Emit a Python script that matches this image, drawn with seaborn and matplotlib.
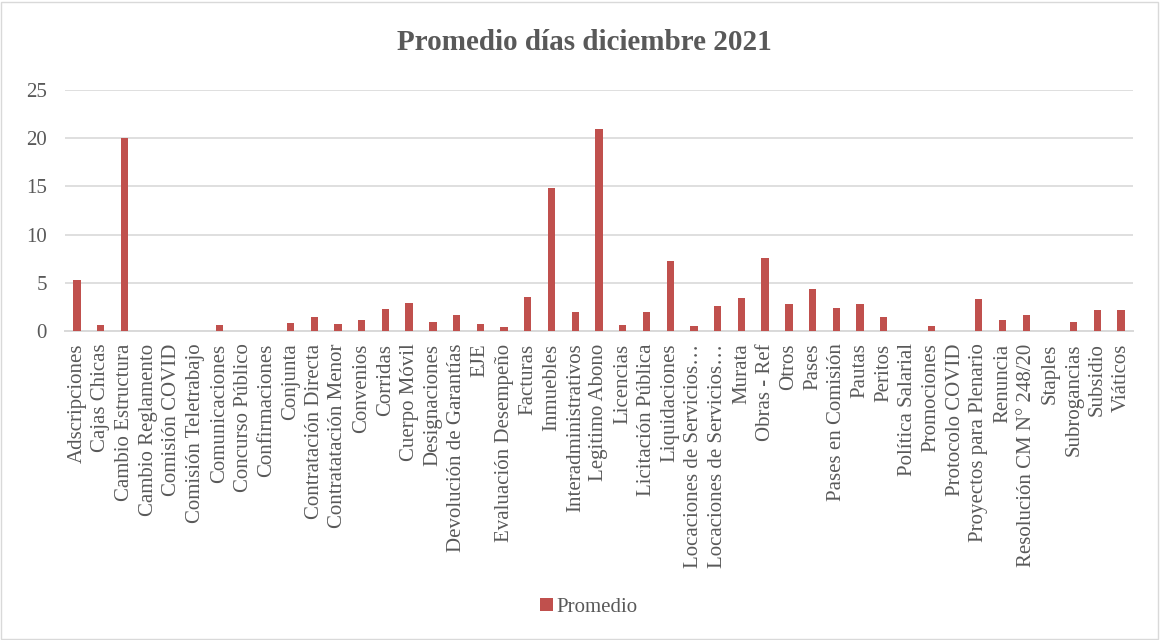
import matplotlib
matplotlib.use("Agg")
import matplotlib.pyplot as plt
import seaborn as sns
import pandas as pd
from matplotlib.patches import Rectangle

categories = [
    "Adscripciones", "Cajas Chicas", "Cambio Estructura", "Cambio Reglamento",
    "Comisión COVID", "Comisión Teletrabajo", "Comunicaciones", "Concurso Público",
    "Confirmaciones", "Conjunta", "Contratación Directa", "Contratatación Menor",
    "Convenios", "Corridas", "Cuerpo Móvil", "Designaciones",
    "Devolución de Garantías", "EJE", "Evaluación Desempeño", "Facturas",
    "Inmuebles", "Interadministrativos", "Legitimo Abono", "Licencias",
    "Licitación Pública", "Liquidaciones", "Locaciones de Servicios…",
    "Locaciones de Servicios…", "Murata", "Obras - Ref", "Otros", "Pases",
    "Pases en Comisión", "Pautas", "Peritos", "Política Salarial", "Promociones",
    "Protocolo COVID", "Proyectos para Plenario", "Renuncia",
    "Resolución CM N° 248/20", "Staples", "Subrogancias", "Subsidio", "Viáticos",
]
promedio = [
    5.3, 0.65, 20.0, 0, 0, 0, 0.65, 0, 0.05, 0.85, 1.45, 0.7,
    1.1, 2.25, 2.9, 0.9, 1.65, 0.7, 0.4, 3.5, 14.8, 1.95, 20.95, 0.65,
    1.95, 7.3, 0.55, 2.6, 3.45, 7.6, 2.85, 4.35, 2.35, 2.85, 1.45, 0, 0.5,
    0, 3.3, 1.1, 1.65, 0, 0.9, 2.2, 2.2,
]
series_name = "Promedio"
title = "Promedio días diciembre 2021"
y_ticks = [0, 5, 10, 15, 20, 25]

sns.set_theme(style="white")
plt.rcParams["font.family"] = ["Liberation Serif", "DejaVu Serif"]

TXT = "#595959"
GRID = "#D9D9D9"
BAR = "#C0504D"

df = pd.DataFrame({"cat": range(len(categories)), "val": promedio})

fig = plt.figure(figsize=(11.6, 6.4), dpi=100)
ax = fig.add_axes([65 / 1160, 1 - 331 / 640, (1133 - 65) / 1160, (331 - 90) / 640])

sns.barplot(data=df, x="cat", y="val", color=BAR, width=0.31, ax=ax,
            label=series_name, saturation=1, zorder=3, linewidth=0)

ax.set_xlim(-0.5, len(categories) - 0.5)
ax.set_ylim(0, 25)
ax.set_yticks(y_ticks)
ax.set_yticklabels([str(t) for t in y_ticks])
ax.set_xticks(range(len(categories)))
ax.set_xticklabels(categories, rotation=90)
ax.set_xlabel("")
ax.set_ylabel("")

ax.yaxis.grid(True, color=GRID, linewidth=1.2, zorder=0)
ax.set_axisbelow(True)
for s in ["top", "right", "left"]:
    ax.spines[s].set_visible(False)
ax.spines["bottom"].set_color(GRID)
ax.spines["bottom"].set_linewidth(1.4)
ax.tick_params(axis="x", length=0, pad=9, labelsize=15, labelcolor=TXT)
ax.tick_params(axis="y", length=0, pad=13, labelsize=15, labelcolor=TXT)

fig.text(0.5 + 4 / 1160, 1 - 42 / 640, title, ha="center", va="center", fontsize=21,
         fontweight="bold", color=TXT)

handles, labels = ax.get_legend_handles_labels()
if ax.get_legend() is not None:
    ax.get_legend().remove()
fig.legend(handles, labels, loc="center", bbox_to_anchor=(0.5 + 9 / 1160, 1 - 607 / 640),
           frameon=False, fontsize=15, labelcolor=TXT, handlelength=0.6,
           handleheight=0.6, handletextpad=0.2)

fig.patches.append(Rectangle((1 / 1160, 1 / 640), 1 - 3 / 1160, 1 - 3 / 640,
                             transform=fig.transFigure, fill=False,
                             edgecolor=GRID, linewidth=1))

fig.savefig("out.png", dpi=100, facecolor="white")
